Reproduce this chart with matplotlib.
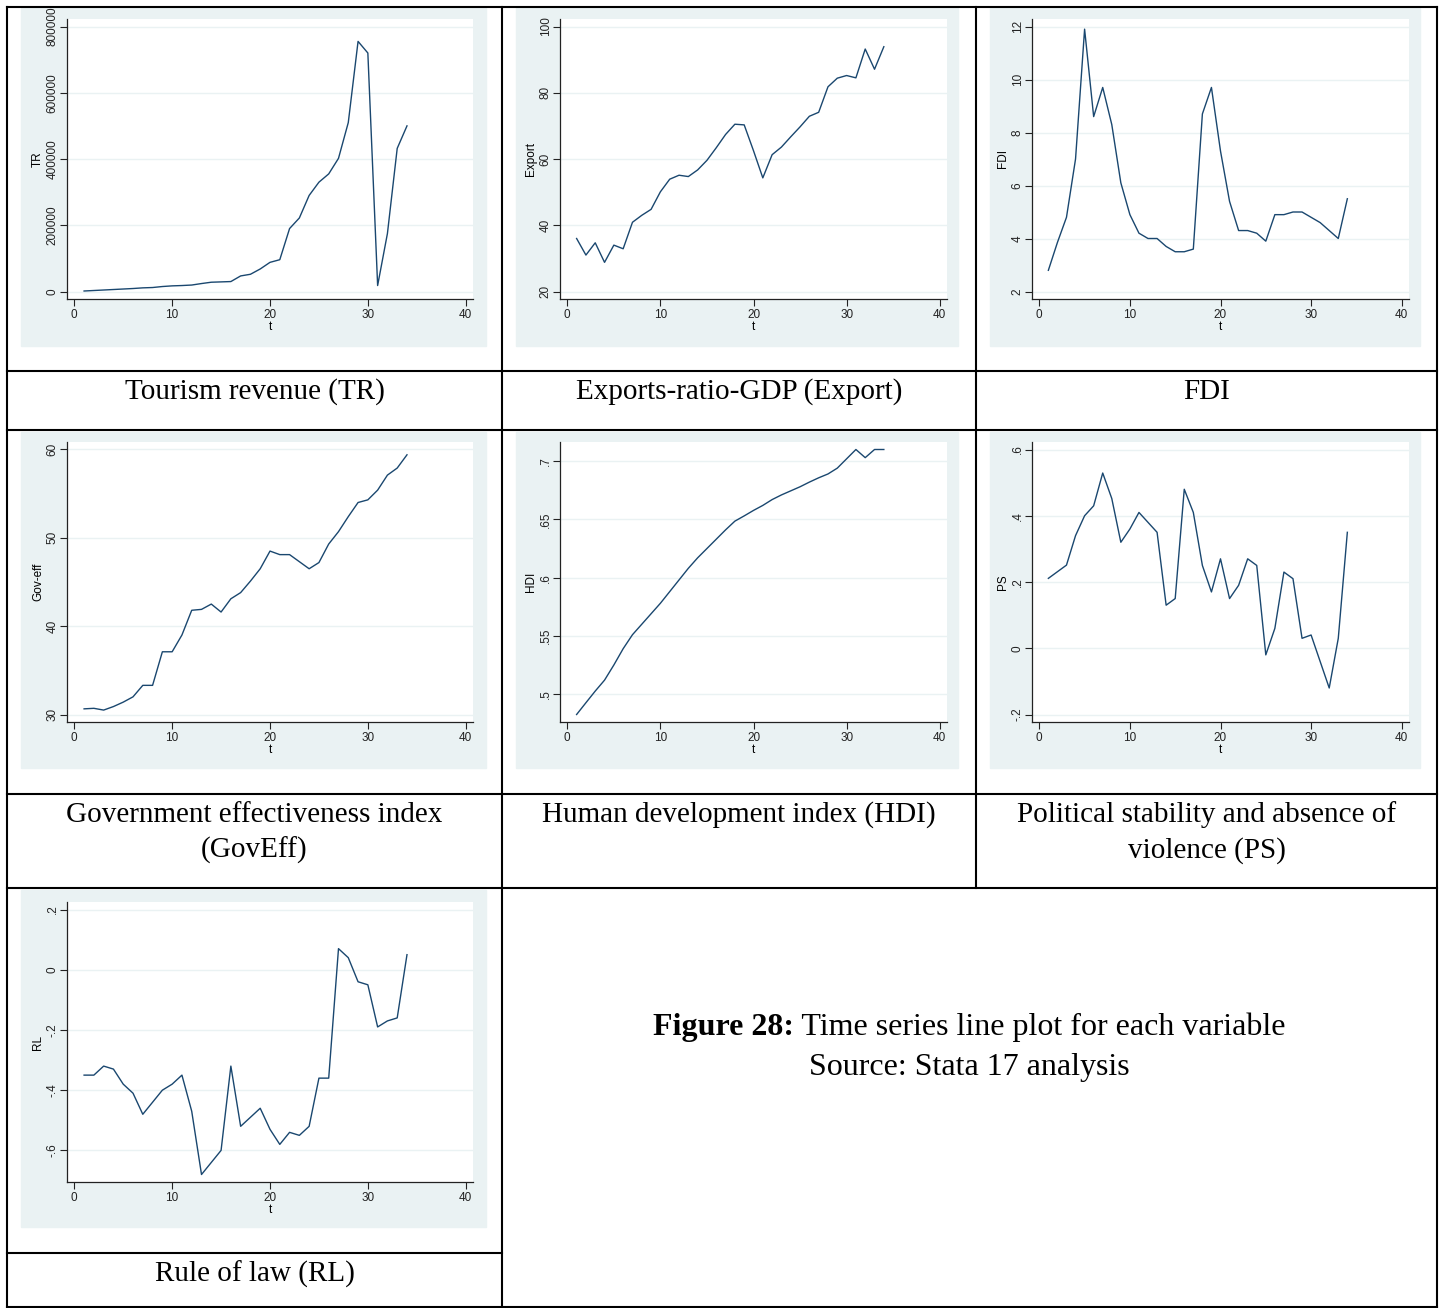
#Time series line plots of each variable, Stata-style panels inside a table grid

import numpy as np
import matplotlib
matplotlib.use('Agg')
import matplotlib.pyplot as plt
from matplotlib.patches import Rectangle

plt.rcParams['font.family'] = ['Liberation Sans', 'DejaVu Sans']

t = np.arange(1, 35)

tr = [1500, 3000, 4500, 6000, 7500, 9000, 11000, 12000, 15000, 17000,
      18000, 19500, 24000, 28000, 29000, 30000, 47000, 52000, 68000, 88000,
      96000, 190000, 222000, 290000, 330000, 355000, 402000, 510000, 755000, 720000,
      18000, 175000, 432000, 500000]
export = [36.0, 31.0, 34.7, 28.8, 34.0, 32.9, 40.9, 43.0, 44.8, 50.1,
          53.9, 55.1, 54.7, 56.7, 59.6, 63.4, 67.4, 70.5, 70.3, 62.5,
          54.3, 61.3, 63.6, 66.7, 69.7, 72.9, 74.1, 81.8, 84.4, 85.2,
          84.5, 93.2, 87.1, 93.9]
fdi = [2.8, 3.85, 4.8, 7.0, 11.9, 8.6, 9.7, 8.3, 6.1, 4.9,
       4.2, 4.0, 4.0, 3.7, 3.5, 3.5, 3.6, 8.7, 9.7, 7.3,
       5.4, 4.3, 4.3, 4.2, 3.9, 4.9, 4.9, 5.0, 5.0, 4.8,
       4.6, 4.3, 4.0, 5.5]
goveff = [30.64, 30.7, 30.5, 30.9, 31.4, 32.0, 33.3, 33.3, 37.1, 37.1,
          39.0, 41.8, 41.9, 42.5, 41.6, 43.1, 43.8, 45.1, 46.5, 48.5,
          48.1, 48.1, 47.3, 46.5, 47.2, 49.3, 50.7, 52.4, 54.0, 54.3,
          55.4, 57.1, 57.9, 59.4]
hdi = [0.4825, 0.4926, 0.5026, 0.512, 0.525, 0.539, 0.551, 0.560, 0.569, 0.578,
       0.588, 0.598, 0.608, 0.617, 0.625, 0.633, 0.641, 0.6485, 0.653, 0.6577,
       0.662, 0.667, 0.671, 0.6745, 0.678, 0.682, 0.6857, 0.689, 0.694, 0.702,
       0.710, 0.703, 0.710, 0.710]
ps = [0.211, 0.231, 0.251, 0.34, 0.40, 0.43, 0.529, 0.452, 0.32, 0.36,
      0.41, 0.38, 0.35, 0.13, 0.15, 0.48, 0.41, 0.25, 0.17, 0.27,
      0.15, 0.19, 0.27, 0.25, -0.02, 0.06, 0.23, 0.21, 0.03, 0.04,
      -0.04, -0.12, 0.03, 0.35]
rl = [-0.35, -0.35, -0.32, -0.33, -0.38, -0.41, -0.48, -0.44, -0.40, -0.38,
      -0.35, -0.47, -0.68, -0.64, -0.60, -0.32, -0.52, -0.49, -0.46, -0.53,
      -0.58, -0.54, -0.55, -0.52, -0.36, -0.36, 0.07, 0.04, -0.04, -0.05,
      -0.19, -0.17, -0.16, 0.05]

xticks = [0, 10, 20, 30, 40]
tr_ticks = [0, 200000, 400000, 600000, 800000]
tr_lbl = ['0', '200000', '400000', '600000', '800000']
ex_ticks = [20, 40, 60, 80, 100]
ex_lbl = ['20', '40', '60', '80', '100']
fdi_ticks = [2, 4, 6, 8, 10, 12]
fdi_lbl = ['2', '4', '6', '8', '10', '12']
ge_ticks = [30, 40, 50, 60]
ge_lbl = ['30', '40', '50', '60']
hdi_ticks = [0.5, 0.55, 0.6, 0.65, 0.7]
hdi_lbl = ['.5', '.55', '.6', '.65', '.7']
ps_ticks = [-0.2, 0, 0.2, 0.4, 0.6]
ps_lbl = ['-.2', '0', '.2', '.4', '.6']
rl_ticks = [-0.6, -0.4, -0.2, 0, 0.2]
rl_lbl = ['-.6', '-.4', '-.2', '0', '.2']

W, H = 1444, 1308
BG = '#EAF2F3'
LINE = '#1A476F'

fig = plt.figure(figsize=(W/100, H/100), dpi=100)
fig.patch.set_facecolor('white')


def panel(bg, box, y, ylab, ticks, labels):
	bx0, by0, bx1, by1 = bg
	fig.add_artist(Rectangle((bx0/W, 1 - by1/H), (bx1 - bx0)/W, (by1 - by0)/H,
	                         transform=fig.transFigure, color=BG, zorder=0))
	x0, y0, x1, y1 = box
	ax = fig.add_axes([x0/W, 1 - y1/H, (x1 - x0)/W, (y1 - y0)/H])
	ax.set_facecolor('white')
	ax.plot(t, y, color=LINE, lw=1.0)
	w = x1 - x0
	h = y1 - y0
	px = 40*7.3/(w - 14.6)
	ax.set_xlim(-px, 40 + px)
	lo = min(min(y), ticks[0])
	hi = max(max(y), ticks[-1])
	py = (hi - lo)*7.5/(h - 15)
	ax.set_ylim(lo - py, hi + py)
	ax.set_xticks(xticks)
	ax.set_yticks(ticks)
	ax.set_yticklabels(labels, rotation=90, va='center')
	ax.tick_params(labelsize=8.5, length=5, width=0.8, colors='#222222')
	ax.tick_params(axis='y', pad=1.0)
	ax.tick_params(axis='x', pad=2.5)
	ax.grid(axis='y', color=BG, lw=1.0)
	ax.set_axisbelow(True)
	for s in ['top', 'right']:
		ax.spines[s].set_visible(False)
	for s in ['left', 'bottom']:
		ax.spines[s].set_color('#222222')
		ax.spines[s].set_linewidth(0.9)
	ax.set_xlabel('t', fontsize=8.5, labelpad=0)
	ax.set_ylabel(ylab, fontsize=8.5, labelpad=2)
	return ax


r1bg, r1 = (8, 346), (19, 299)
r2bg, r2 = (432, 768), (442, 722)
r4bg, r4 = (890, 1227), (902, 1182)
c1bg, c1 = (21, 486), (67, 473)
c2bg, c2 = (516, 958), (560, 947)
c3bg, c3 = (990, 1420), (1032, 1409)

def box(c, r):
	return (c[0], r[0], c[1], r[1])

panel(box(c1bg, r1bg), box(c1, r1), tr, 'TR', tr_ticks, tr_lbl)
panel(box(c2bg, r1bg), box(c2, r1), export, 'Export', ex_ticks, ex_lbl)
panel(box(c3bg, r1bg), box(c3, r1), fdi, 'FDI', fdi_ticks, fdi_lbl)
panel(box(c1bg, r2bg), box(c1, r2), goveff, 'Gov-eff', ge_ticks, ge_lbl)
panel(box(c2bg, r2bg), box(c2, r2), hdi, 'HDI', hdi_ticks, hdi_lbl)
panel(box(c3bg, r2bg), box(c3, r2), ps, 'PS', ps_ticks, ps_lbl)
panel(box(c1bg, r4bg), box(c1, r4), rl, 'RL', rl_ticks, rl_lbl)

#overlay in pixel coordinates for the table grid and captions
ov = fig.add_axes([0, 0, 1, 1])
ov.set_xlim(0, W)
ov.set_ylim(H, 0)
ov.axis('off')

L, R, T, B = 7, 1437, 7, 1307
grid = [((L, L), (T, B)), ((R, R), (T, B)), ((502, 502), (T, B)), ((976, 976), (T, 888)),
        ((L, R), (T, T)), ((L, R), (B, B)), ((L, R), (371, 371)), ((L, R), (430, 430)),
        ((L, R), (794, 794)), ((L, R), (888, 888)), ((L, 502), (1253, 1253))]
for xs, ys in grid:
	ov.plot(xs, ys, color='black', lw=1.5, solid_capstyle='projecting')

cap = dict(family=['Liberation Serif', 'DejaVu Serif'], fontsize=21, ha='center', va='baseline')
ov.text(254.5, 399, 'Tourism revenue (TR)', **cap)
ov.text(739, 399, 'Exports-ratio-GDP (Export)', **cap)
ov.text(1206.5, 399, 'FDI', **cap)
ov.text(254.5, 822, 'Government effectiveness index', **cap)
ov.text(254.5, 858, '(GovEff)', **cap)
ov.text(739, 822, 'Human development index (HDI)', **cap)
ov.text(1206.5, 822, 'Political stability and absence of', **cap)
ov.text(1206.5, 858, 'violence (PS)', **cap)
ov.text(254.5, 1282, 'Rule of law (RL)', **cap)

big = dict(cap)
big['fontsize'] = 23
left = dict(big)
left['ha'] = 'left'
f1 = ov.text(0, 1035, 'Figure 28:', fontweight='bold', **left)
f2 = ov.text(0, 1035, ' Time series line plot for each variable', **left)
rend = fig.canvas.get_renderer()
w1 = f1.get_window_extent(rend).width
w2 = f2.get_window_extent(rend).width
x0 = 969.5 - (w1 + w2)/2
f1.set_x(x0)
f2.set_x(x0 + w1)
ov.text(969.5, 1075, 'Source: Stata 17 analysis', **big)

fig.savefig('out.png', dpi=100)
